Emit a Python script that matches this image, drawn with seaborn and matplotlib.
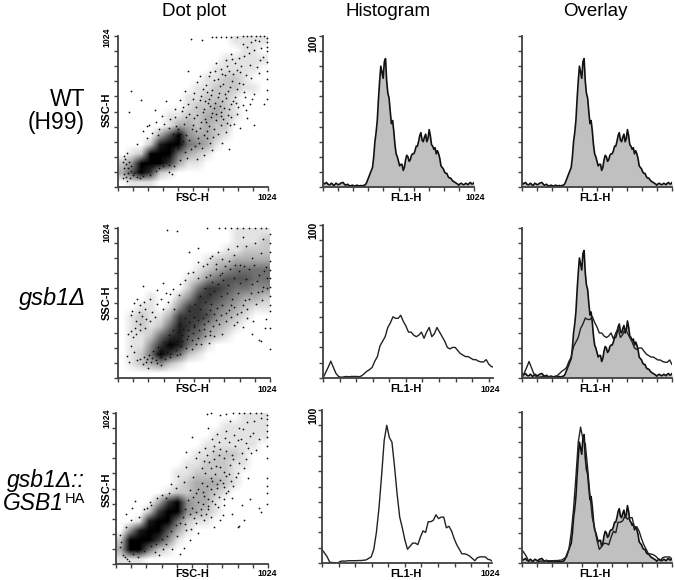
import numpy as np
import pandas as pd
import seaborn as sns
from matplotlib import pyplot as plt

W, H = 675, 580

# fluorescence channels of the histogram values below
FL1_CHANNELS = list(range(0, 1057, 16))

# % of max per channel
WT_COUNTS = [3, 2.5, 2, 1.5, 2, 1.5, 2, 1.8, 2.8, 2, 1.5, 1, 1, 0.8, 1, 0.7, 1, 1, 1.5, 5,
             9, 13, 30, 44, 70, 76, 83, 70, 59, 42, 37, 22, 17, 15, 11, 18, 20, 18, 22, 24,
             27, 34, 31, 33, 30, 38, 28, 25, 22, 22, 14, 12, 9, 7, 6, 4, 3, 2, 2, 2,
             1.8, 2, 2.5, 2, 3]
# WT again, the channels half way between those above (the trace is jagged)
WT_BETWEEN = [2, 3, 1.5, 2.5, 1, 2.5, 1.5, 2.5, 3, 1.2, 1.8, 0.6, 1.2, 0.6, 1.2, 0.8, 0.6, 1.2, 3, 7,
              11, 20, 36, 58, 80, 72, 85, 62, 50, 44, 28, 20, 14, 15, 13, 21, 17, 21, 22, 27,
              30, 36, 30, 35, 32, 34, 27, 26, 24, 19, 13, 10, 9, 6, 5, 3.5, 2.5, 1.2, 2.5, 1.5,
              2.5, 1.5, 3, 2]
GSB1_COUNTS = [0, 3.5, 7, 11, 7, 3, 1, 0.5, 0.7, 1, 0.8, 1, 1, 1, 0.8, 1.5, 3, 4.5, 5.5, 7,
               11, 14, 21, 24, 27, 33, 36, 40, 39, 39, 41, 37, 34, 30, 30, 28, 27, 28, 30, 26,
               30, 33, 27, 29, 33, 30, 27, 24, 20, 19, 20, 20, 18, 16, 15, 14, 14, 13, 12, 12,
               11, 10.5, 10.5, 12, 9, 7.5, 7]
COMP_COUNTS = [8.7, 6.5, 4, 0.5, 0.3, 0.2, 0, 1, 1.3, 1.2, 1.5, 1.5, 1.5, 1.5, 1.6, 1.6, 1.8, 2, 3, 4,
               9, 20, 36, 57, 80, 90, 82, 79, 63, 45, 30, 23, 15, 9, 11, 13, 13, 12, 17, 21,
               20, 27, 27, 28, 31.5, 29, 30, 30, 23, 24, 21, 16, 12, 9, 6, 6, 5.5, 4.5, 3, 1.5,
               3.5, 4, 4, 4, 2.5, 2, 0.8]

# how dark each part of the dot cloud is, 0-9, top row first
WT_DENSITY = ["0000000000001111", "0000000000000110", "0000000000011111", "0000000000111110",
              "0000000001122100", "0000000011222110", "0000000112221000", "0000000122321000",
              "0000011223321000", "0000013323220000", "0000369433210000", "0002899543100000",
              "0129995321000000", "2499973110000000", "3697210000000000", "0111000000000000"]
GSB1_DENSITY = ["0000000000001111", "0000000000001112", "0000000000011222", "0000000001223333",
                "0000000012345555", "0000000124566655", "0000000257765544", "0001002477654332",
                "0011014776543211", "0121137776432100", "0121258764321000", "0112578653210000",
                "0114798531000000", "0125975210000000", "0123421000000000", "0000000000000000"]
COMP_DENSITY = ["0000000000000111", "0000000000011111", "0000000000111111", "0000000001111110",
                "0000000011222100", "0000000112221100", "0000001122221000", "0000001233321000",
                "0000012233210000", "0000379433100000", "0002799432100000", "0018995211000000",
                "0489963100000000", "2999741000000000", "3995210000000000", "1110000000000000"]

# single events (FSC, SSC) that stand out from the cloud
WT_DOTS = [(86, 650), (159, 593), (73, 510), (500, 1005), (575, 995), (640, 1020), (670, 1020), (700, 1020),
           (735, 1020), (770, 1015), (810, 1020), (850, 1022), (880, 1022), (910, 1022), (940, 1022), (970, 1022),
           (1000, 1022), (1020, 1010), (1020, 980), (1020, 950), (1020, 920), (1020, 850), (1020, 790), (1020, 735),
           (1020, 660), (1020, 600), (960, 990), (905, 985), (880, 950), (930, 930), (860, 890), (770, 900),
           (740, 860), (800, 840), (700, 800), (660, 790), (760, 790), (835, 780), (900, 830), (970, 860),
           (620, 750), (680, 730), (720, 700), (780, 720), (850, 700), (930, 630), (960, 770), (480, 790),
           (540, 710), (600, 690), (640, 660), (690, 640), (750, 650), (800, 610), (870, 610), (900, 560),
           (460, 650), (520, 640), (570, 620), (620, 600), (660, 570), (710, 580), (770, 560), (820, 540),
           (880, 470), (930, 420), (1000, 560), (420, 590), (480, 560), (530, 540), (590, 530), (640, 500),
           (700, 510), (750, 490), (790, 430), (830, 400), (390, 530), (330, 580), (300, 480), (250, 520),
           (210, 420), (260, 440), (170, 380), (130, 290), (200, 330), (350, 400), (700, 420), (740, 370),
           (650, 340), (710, 300), (760, 260), (640, 250), (590, 220), (540, 190), (470, 200), (420, 180),
           (380, 140), (350, 100), (630, 300), (555, 300), (500, 260), (455, 240), (60, 230), (50, 190),
           (70, 130), (100, 80), (40, 90), (35, 60), (60, 40), (150, 60), (220, 80), (260, 110),
           (310, 140), (370, 90), (600, 440), (610, 380), (560, 400), (510, 420), (450, 430), (410, 390)]
WT_CLOUD = [(613, 571), (627, 548), (583, 512), (652, 533), (671, 497), (694, 547), (722, 538), (738, 603), (761, 527),
            (783, 581), (806, 569), (597, 463), (633, 476), (667, 452), (702, 481), (719, 458), (747, 431), (773, 472),
            (541, 487), (566, 444), (519, 468), (488, 497), (463, 473), (437, 514), (503, 391), (533, 377), (587, 353),
            (622, 412), (654, 391), (683, 357), (467, 351), (423, 361), (396, 417), (374, 358), (442, 309), (486, 322),
            (527, 276), (573, 266), (608, 331), (546, 333), (413, 263), (378, 243), (338, 212), (301, 197), (274, 351),
            (229, 363), (282, 394), (316, 428), (198, 412), (352, 461), (391, 477), (681, 611), (637, 627), (592, 581),
            (557, 593), (729, 634), (764, 676), (813, 664), (857, 642), (829, 703), (787, 763), (731, 757), (694, 683),
            (656, 723), (609, 647), (582, 664), (512, 598), (447, 541), (843, 823), (811, 791), (874, 762), (908, 737),
            (946, 812), (893, 906), (823, 874), (856, 968), (938, 996), (977, 941), (991, 884), (743, 823), (709, 767),
            (781, 866), (672, 842), (627, 781), (558, 752), (851, 557), (876, 523), (917, 596), (809, 497), (766, 421),
            (53, 157), (73, 172), (91, 141), (38, 128), (67, 96), (88, 107), (44, 212), (31, 167), (112, 96), (139, 111),
            (57, 71), (83, 63), (128, 70), (173, 73), (163, 121), (208, 106), (241, 143), (279, 128), (318, 186), (349, 151)]
GSB1_DOTS = [(330, 1012), (400, 1003), (600, 1022), (680, 1022), (720, 1022), (760, 1022), (800, 1022), (840, 1022),
             (880, 1022), (920, 1022), (960, 1022), (1000, 1022), (1022, 980), (1022, 920), (1022, 860), (1022, 800),
             (1022, 740), (1022, 680), (1022, 620), (1022, 560), (1022, 500), (1022, 460), (1022, 340), (1022, 200),
             (990, 340), (960, 250), (540, 885), (480, 860), (540, 790), (600, 780), (630, 830), (660, 780),
             (700, 810), (750, 800), (780, 840), (800, 900), (860, 900), (920, 920), (980, 950), (840, 960),
             (420, 640), (300, 650), (260, 600), (170, 630), (130, 540), (110, 510), (150, 500), (180, 470),
             (90, 430), (120, 390), (160, 420), (190, 400), (230, 450), (320, 580), (370, 610), (100, 280),
             (90, 220), (110, 180), (60, 150), (75, 110), (130, 120), (190, 110), (200, 70), (260, 100),
             (290, 90), (350, 140), (400, 160), (500, 200), (560, 230), (610, 240), (650, 290), (700, 300),
             (780, 360), (840, 350), (950, 260), (900, 300), (1000, 400), (800, 440), (730, 390), (620, 320),
             (470, 290), (430, 250), (980, 620), (940, 590), (880, 540), (840, 500), (760, 500), (650, 440),
             (580, 370), (510, 350), (960, 850), (900, 820), (820, 770), (1000, 760), (700, 720), (470, 720),
             (540, 680), (590, 690), (410, 570), (380, 470), (340, 520), (300, 470), (215, 540), (65, 300)]
GSB1_CLOUD = [(623, 703), (657, 741), (688, 702), (724, 763), (752, 741), (788, 771), (813, 733), (847, 762), (883, 741),
              (917, 773), (948, 702), (983, 731), (1006, 683), (631, 657), (672, 641), (709, 669), (741, 633), (779, 683),
              (823, 651), (861, 677), (902, 643), (937, 661), (971, 591), (1003, 617), (583, 613), (617, 571), (649, 593),
              (693, 557), (733, 582), (768, 541), (809, 577), (853, 531), (897, 583), (933, 507), (967, 533), (551, 557),
              (587, 521), (629, 503), (667, 478), (703, 497), (748, 463), (783, 487), (826, 451), (871, 471), (519, 503),
              (553, 471), (591, 437), (623, 463), (661, 397), (693, 427), (727, 441), (761, 417), (803, 379), (867, 413),
              (907, 389), (481, 457), (509, 419), (541, 397), (573, 411), (607, 387), (641, 353), (681, 371), (449, 411),
              (477, 379), (511, 363), (543, 327), (581, 337), (617, 293), (413, 371), (441, 337), (471, 331), (507, 309),
              (541, 273), (583, 287), (373, 327), (403, 311), (433, 293), (463, 263), (499, 257), (527, 231), (341, 293),
              (369, 273), (397, 251), (427, 221), (457, 207), (307, 247), (333, 229), (361, 211), (389, 193), (419, 167),
              (271, 213), (297, 193), (327, 177), (353, 167), (239, 181), (263, 163), (289, 141), (317, 127), (207, 157),
              (231, 137), (253, 121), (173, 141), (197, 127), (221, 109), (149, 127), (167, 97), (113, 341), (147, 367),
              (87, 323), (121, 297), (151, 331), (183, 343), (217, 389), (247, 417), (139, 453), (173, 521), (97, 459),
              (263, 507), (293, 537), (349, 573), (453, 671), (503, 727), (571, 763), (617, 821), (673, 857), (739, 879)]
COMP_DOTS = [(610, 1020), (640, 1022), (700, 1010), (740, 1020), (790, 1022), (830, 1022), (860, 1022), (900, 1022),
             (940, 1022), (980, 1022), (1015, 1010), (1020, 980), (1020, 940), (1020, 900), (1020, 860), (1020, 800),
             (1020, 720), (1020, 580), (1020, 530), (1020, 480), (1020, 410), (980, 990), (930, 970), (880, 960),
             (830, 920), (770, 970), (740, 900), (680, 880), (620, 920), (900, 870), (960, 850), (820, 840),
             (760, 830), (700, 780), (660, 800), (600, 790), (890, 790), (940, 770), (850, 750), (780, 740),
             (730, 720), (660, 710), (510, 860), (470, 760), (540, 720), (590, 700), (640, 650), (700, 660),
             (760, 610), (820, 620), (890, 580), (900, 440), (850, 400), (960, 380), (980, 350), (860, 300),
             (780, 340), (720, 330), (830, 260), (820, 250), (590, 300), (540, 280), (660, 250), (700, 300),
             (570, 370), (620, 390), (670, 410), (730, 440), (780, 450), (470, 660), (420, 600), (370, 540),
             (310, 470), (230, 420), (190, 370), (130, 430), (110, 380), (70, 340), (30, 200), (60, 50),
             (90, 20), (150, 50), (290, 60), (430, 70), (380, 100), (460, 110), (500, 160), (550, 210),
             (500, 500), (540, 480), (590, 460), (640, 510), (680, 540), (730, 520), (470, 230), (410, 190)]
COMP_CLOUD = [(601, 617), (637, 583), (668, 607), (703, 571), (739, 597), (773, 563), (807, 587), (581, 551), (613, 527),
              (649, 561), (683, 513), (721, 547), (757, 497), (791, 531), (553, 509), (589, 487), (623, 441), (661, 477),
              (697, 453), (741, 481), (521, 451), (551, 423), (583, 407), (617, 373), (649, 427), (687, 387), (729, 401),
              (487, 433), (511, 381), (541, 353), (573, 331), (607, 341), (643, 317), (467, 373), (497, 337), (523, 313),
              (453, 317), (431, 281), (467, 271), (503, 239), (401, 263), (371, 227), (343, 193), (307, 167), (269, 139),
              (233, 121), (561, 761), (613, 737), (653, 763), (697, 737), (743, 767), (787, 709), (827, 687), (861, 653),
              (801, 801), (843, 847), (877, 823), (921, 891), (857, 917), (797, 877), (733, 857), (693, 829), (647, 847),
              (907, 751), (873, 713), (769, 673), (727, 623), (673, 663), (627, 689), (577, 651), (519, 587), (461, 553),
              (403, 517), (359, 481), (337, 449), (277, 449), (239, 403), (49, 63), (77, 37), (113, 71), (143, 87), (189, 91),
              (31, 147), (27, 113), (69, 251), (103, 297), (157, 319), (211, 377), (337, 133), (319, 99), (263, 81)]

LABELS = ["Dot plot", "Histogram", "Overlay"]
ROW_COUNTS = [WT_COUNTS, GSB1_COUNTS, COMP_COUNTS]
ROW_DENSITY = [WT_DENSITY, GSB1_DENSITY, COMP_DENSITY]
ROW_DOTS = [WT_DOTS + WT_CLOUD, GSB1_DOTS + GSB1_CLOUD, COMP_DOTS + COMP_CLOUD]

# panel frames in pixels: left, right, top, bottom
DOT_BOXES = [(118, 268, 36, 187), (118, 270, 228, 378), (116, 268, 413, 564)]
HIST_BOXES = [(323, 474, 36, 187), (323, 493, 225, 378), (322, 492, 410, 563)]
OVER_BOXES = [(522, 672, 36, 187), (522, 672, 228, 378), (522, 672, 412, 563)]
AXIS_COLOR = "#404040"
FILL_COLOR = "#c0c0c0"


def make_axes(fig, box, xmax, ymax):
    left, right, top, bottom = box
    ax = fig.add_axes([left / W, 1 - bottom / H, (right - left) / W, (bottom - top) / H])
    ax.set_xlim(0, xmax)
    ax.set_ylim(0, ymax)
    ax.set_xticks(np.linspace(0, 1024, 11))
    ax.set_yticks(np.linspace(0, ymax, 11))
    ax.tick_params(length=3, width=1, color=AXIS_COLOR, labelbottom=False, labelleft=False)
    sns.despine(ax=ax)
    for side in ["left", "bottom"]:
        ax.spines[side].set_color(AXIS_COLOR)
        ax.spines[side].set_linewidth(1.3)
    return ax


def put_text(fig, x, y, s, **kw):
    kw.setdefault("ha", "center")
    kw.setdefault("va", "center")
    fig.text(x / W, 1 - y / H, s, color="black", **kw)


def draw_line(ax, x, counts, color="black", lw=1.0):
    df = pd.DataFrame({"channel": x, "count": counts})
    sns.lineplot(data=df, x="channel", y="count", color=color, lw=lw, estimator=None, sort=False, ax=ax)
    ax.set_xlabel("")
    ax.set_ylabel("")


def draw_wt(ax, wt_x, wt_y):
    ax.fill_between(wt_x, wt_y, color=FILL_COLOR, lw=0)
    draw_line(ax, wt_x, wt_y, color="#111111", lw=1.2)


def draw_dots(ax, density, dots):
    grid = np.array([[int(c) for c in row] for row in density])
    ax.imshow(grid, extent=(0, 1024, 0, 1024), origin="upper", aspect="auto",
              interpolation="bilinear", cmap="gray_r", vmin=0, vmax=9)
    dots = pd.DataFrame(dots, columns=["fsc", "ssc"])
    sns.scatterplot(data=dots, x="fsc", y="ssc", color="#111111", s=1.6, linewidth=0, ax=ax, clip_on=False)
    ax.set_xlim(0, 1024)
    ax.set_ylim(0, 1024)
    ax.set_xlabel("")
    ax.set_ylabel("")


def main():
    sns.set_theme(style="ticks")
    plt.rcParams["font.family"] = ["Liberation Sans", "DejaVu Sans"]
    fig = plt.figure(figsize=(W / 100, H / 100), dpi=100)

    # weave the two WT readings into one trace
    wt_x = []
    wt_y = []
    for i, value in enumerate(WT_COUNTS):
        wt_x.append(FL1_CHANNELS[i])
        wt_y.append(value)
        if i < len(WT_BETWEEN):
            wt_x.append(FL1_CHANNELS[i] + 8)
            wt_y.append(WT_BETWEEN[i])

    for row in range(3):
        # dot plot
        ax = make_axes(fig, DOT_BOXES[row], 1024, 1024)
        draw_dots(ax, ROW_DENSITY[row], ROW_DOTS[row])

        # histogram
        ax = make_axes(fig, HIST_BOXES[row], 1024 if row == 0 else 1050, 100)
        if row == 0:
            draw_wt(ax, wt_x, wt_y)
        else:
            counts = ROW_COUNTS[row]
            draw_line(ax, FL1_CHANNELS[:len(counts)], counts, color="#222222", lw=1.0)

        # overlay on the WT histogram
        ax = make_axes(fig, OVER_BOXES[row], 1024, 100)
        draw_wt(ax, wt_x, wt_y)
        if row > 0:
            counts = ROW_COUNTS[row]
            draw_line(ax, FL1_CHANNELS[:len(counts)], counts, color="#222222", lw=1.0)

    # column titles
    put_text(fig, 194, 12, LABELS[0], fontsize=13.5)
    put_text(fig, 388, 12, LABELS[1], fontsize=13.5)
    put_text(fig, 595, 12, LABELS[2], fontsize=13.5)

    # row labels
    put_text(fig, 85, 100, "WT", fontsize=16.5, ha="right")
    put_text(fig, 85, 123, "(H99)", fontsize=16.5, ha="right")
    put_text(fig, 86, 298, "gsb1\u0394", fontsize=17, ha="right", style="italic")
    put_text(fig, 85, 480, "gsb1\u0394::", fontsize=16.5, ha="right", style="italic")
    put_text(fig, 64, 503, "GSB1", fontsize=16.5, ha="right", style="italic")
    put_text(fig, 85, 499, "HA", fontsize=10.5, ha="right")

    small = dict(fontsize=6.3, fontweight="bold")
    axis_lab = dict(fontsize=8, fontweight="bold")
    for ssc_y, top_y, lab_y in [(110, 37, 198), (303, 232, 389), (490, 418, 574)]:
        put_text(fig, 107, ssc_y, "SSC-H", rotation=90, **axis_lab)
        put_text(fig, 107, top_y, "1024", rotation=90, **small)
        put_text(fig, 192, lab_y, "FSC-H", **axis_lab)
        put_text(fig, 267, lab_y, "1024", **small)
        put_text(fig, 406, lab_y, "FL1-H", **axis_lab)
        put_text(fig, 595, lab_y, "FL1-H", **axis_lab)
    put_text(fig, 475, 198, "1024", **small)
    put_text(fig, 490, 389, "1024", **small)
    put_text(fig, 490, 574, "1024", **small)
    for y in [43, 230, 415]:
        put_text(fig, 313, y, "100", rotation=90, fontsize=7.5, fontweight="bold")

    fig.savefig("out.png", dpi=100)
    plt.close(fig)


if __name__ == '__main__':
    main()
